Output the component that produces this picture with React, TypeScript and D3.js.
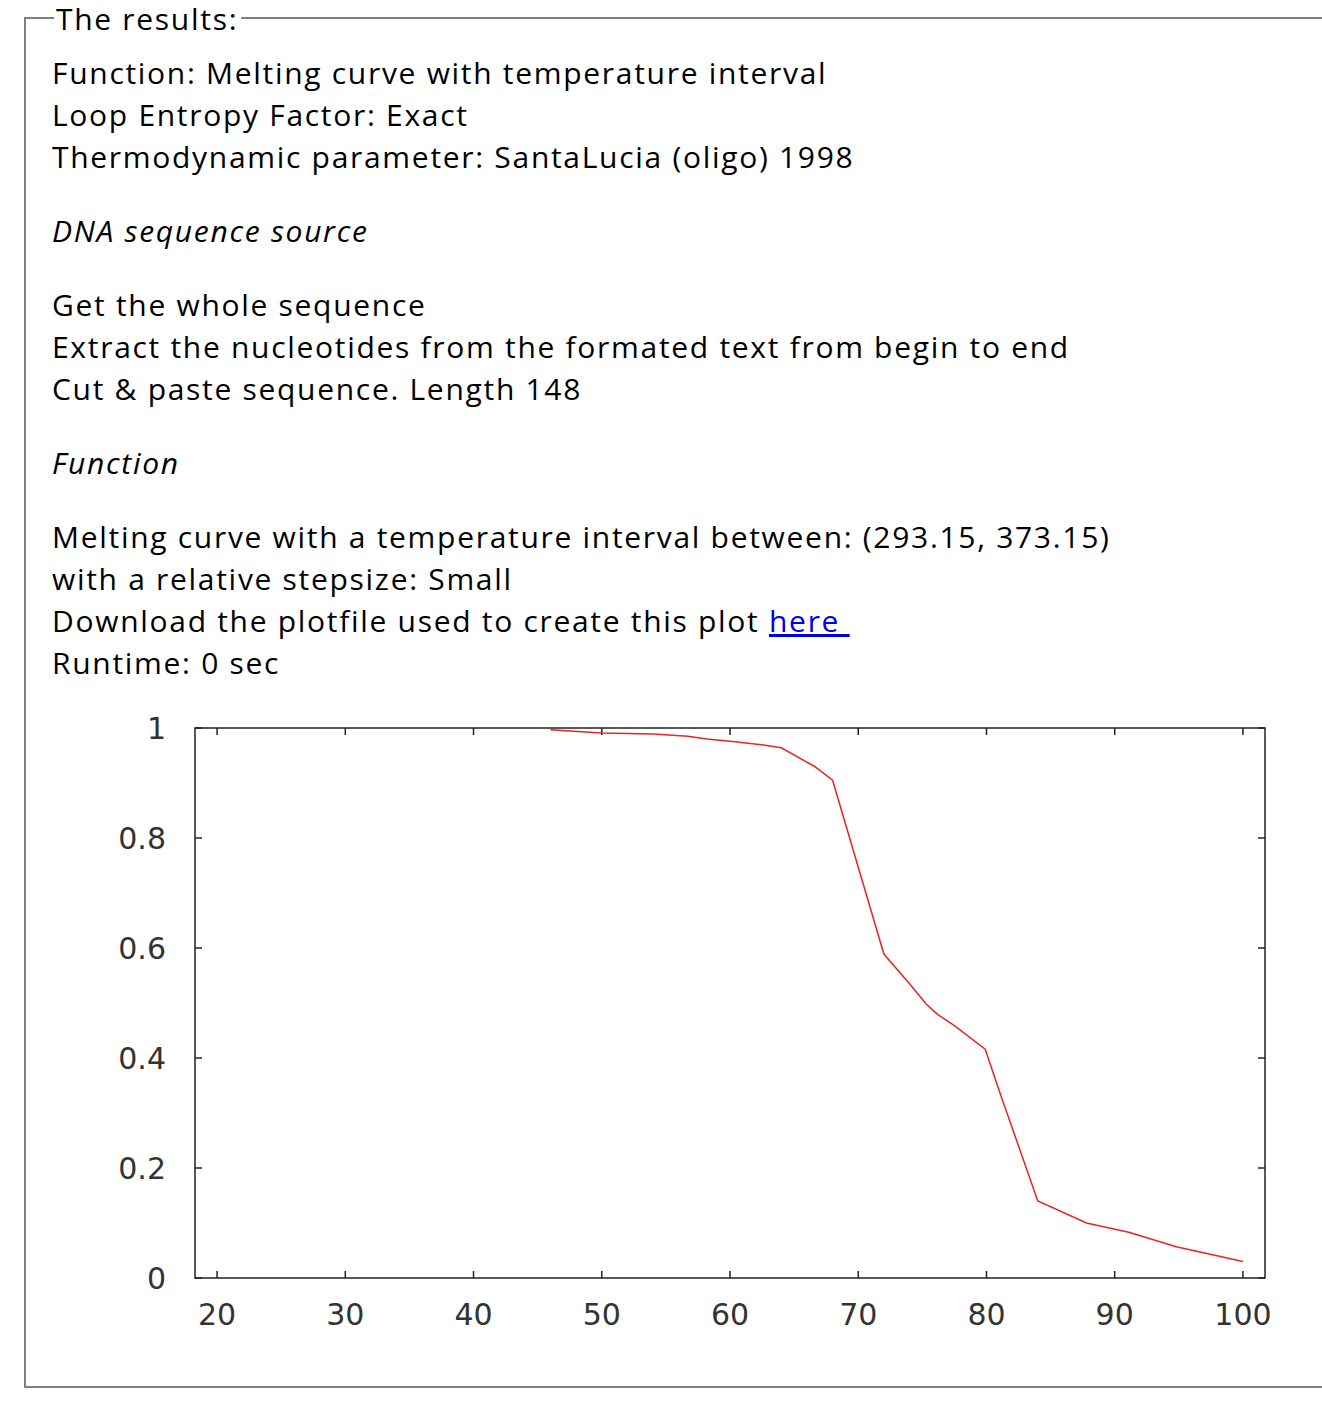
import { useEffect, useRef } from "react";
import * as d3 from "d3";

// melting curve: temperature (C) vs fraction of helix
const temps = [46, 50, 54, 56.7, 58.2, 60.4, 62.6, 64, 66.6, 68, 72, 74, 75.3, 76.2, 77.5, 79.9, 81, 84, 87.8, 91.1, 94.8, 100];
const helix = [0.997, 0.991, 0.989, 0.985, 0.98, 0.975, 0.969, 0.964, 0.93, 0.905, 0.589, 0.535, 0.498, 0.479, 0.459, 0.416, 0.34, 0.14, 0.1, 0.083, 0.057, 0.03];
const xTicks = [20, 30, 40, 50, 60, 70, 80, 90, 100];
const yTicks = [0, 0.2, 0.4, 0.6, 0.8, 1];

const lines: [string, number, boolean][] = [
  ["Function: Melting curve with temperature interval", 84, false],
  ["Loop Entropy Factor: Exact", 126, false],
  ["Thermodynamic parameter: SantaLucia (oligo) 1998", 168, false],
  ["DNA sequence source", 242, true],
  ["Get the whole sequence", 316, false],
  ["Extract the nucleotides from the formated text from begin to end", 358, false],
  ["Cut & paste sequence. Length 148", 400, false],
  ["Function", 474, true],
  ["Melting curve with a temperature interval between: (293.15, 373.15)", 548, false],
  ["with a relative stepsize: Small", 590, false],
  ["Runtime: 0 sec", 674, false],
];

const font = "'Open Sans', 'DejaVu Sans', sans-serif";
const ls = 1.7;

export default function App() {
  const ref = useRef<SVGSVGElement>(null);

  useEffect(() => {
    const svg = d3.select(ref.current);
    svg.selectAll("*").remove();
    const left = 195, right = 1265, top = 728, bottom = 1278;
    const x = d3.scaleLinear().domain([18.28, 101.72]).range([left, right]);
    const y = d3.scaleLinear().domain([0, 1]).range([bottom, top]);

    // fieldset border
    const legend = svg.append("text").attr("x", 56).attr("y", 30).text("The results:")
      .attr("font-size", 30).attr("font-family", font).attr("letter-spacing", ls);
    const lw = (legend.node() as SVGTextElement).getComputedTextLength();
    svg.append("path")
      .attr("d", `M54,18 H25 V1387 H1322 M${56 + lw + 3},18 H1322`)
      .attr("fill", "none").attr("stroke", "#808080").attr("stroke-width", 2);

    lines.forEach(([t, yy, it]) => {
      svg.append("text").attr("x", 52).attr("y", yy).text(t)
        .attr("font-size", 30).attr("font-family", font).attr("letter-spacing", ls)
        .attr("font-style", it ? "italic" : "normal");
    });
    const dl = svg.append("text").attr("x", 52).attr("y", 632)
      .attr("font-size", 30).attr("font-family", font).attr("letter-spacing", ls);
    dl.append("tspan").text("Download the plotfile used to create this plot ");
    dl.append("tspan").attr("fill", "#0000EE").attr("text-decoration", "underline")
      .text("here\u00a0");

    // plot frame
    svg.append("rect").attr("x", left).attr("y", top)
      .attr("width", right - left).attr("height", bottom - top)
      .attr("fill", "none").attr("stroke", "#222").attr("stroke-width", 1.5);

    const tk = svg.append("g").attr("stroke", "#222").attr("stroke-width", 1.5);
    xTicks.forEach((v) => {
      tk.append("line").attr("x1", x(v)).attr("x2", x(v)).attr("y1", bottom).attr("y2", bottom - 7);
      tk.append("line").attr("x1", x(v)).attr("x2", x(v)).attr("y1", top).attr("y2", top + 7);
      svg.append("text").attr("x", x(v)).attr("y", 1325).attr("text-anchor", "middle")
        .attr("font-size", 30).attr("font-family", "'DejaVu Sans', sans-serif").attr("fill", "#333").text(v);
    });
    yTicks.forEach((v) => {
      tk.append("line").attr("x1", left).attr("x2", left + 7).attr("y1", y(v)).attr("y2", y(v));
      tk.append("line").attr("x1", right).attr("x2", right - 7).attr("y1", y(v)).attr("y2", y(v));
      svg.append("text").attr("x", 166).attr("y", y(v) + 11).attr("text-anchor", "end")
        .attr("font-size", 30).attr("font-family", "'DejaVu Sans', sans-serif").attr("fill", "#333").text(d3.format("~g")(v));
    });

    const pts = temps.map((t, i) => [t, helix[i]] as [number, number]);
    svg.append("path").datum(pts)
      .attr("d", d3.line<[number, number]>().x((d) => x(d[0])).y((d) => y(d[1])))
      .attr("fill", "none").attr("stroke", "#ee2222").attr("stroke-width", 1.5);
  }, []);

  return (
    <svg ref={ref} width={1322} height={1408}
      style={{ position: "absolute", left: 0, top: 0, background: "#fff" }} />
  );
}
